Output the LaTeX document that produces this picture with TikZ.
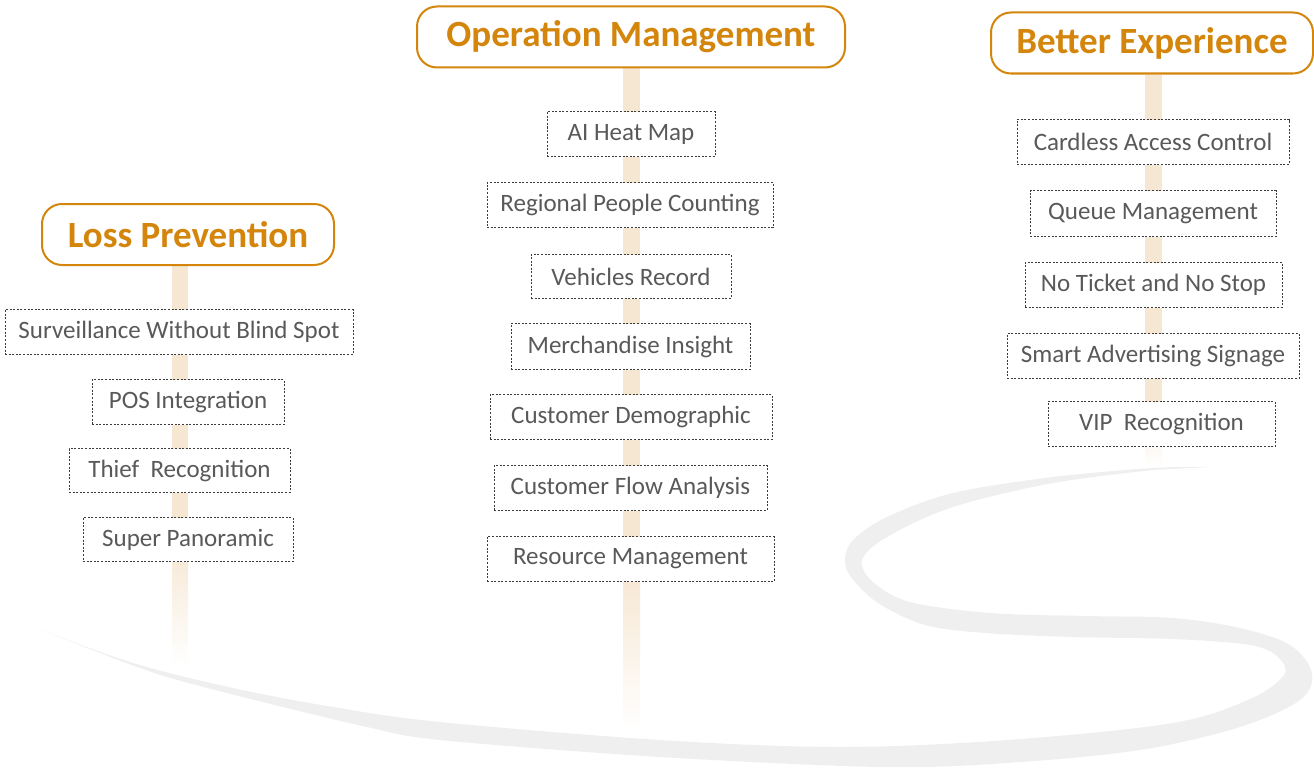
\documentclass[tikz,border=0pt]{standalone}
\usepackage{fontspec}
\setmainfont{Carlito}
\usetikzlibrary{backgrounds,calc}
\definecolor{hdrcol}{RGB}{212,134,12}
\definecolor{barcol}{RGB}{246,231,210}
\definecolor{swcol}{RGB}{239,239,239}
\definecolor{txtcol}{RGB}{89,89,89}
\definecolor{dotcol}{RGB}{60,60,60}
\begin{document}
\begin{tikzpicture}[x=1pt,y=-1pt,
  hdr/.style={draw=hdrcol, line width=2pt, rounded corners=20pt, fill=white,
    text=hdrcol, font=\fontsize{37}{40}\selectfont\bfseries, inner sep=0pt},
  item/.style={draw=dotcol, line width=0.7pt, dash pattern=on 2pt off 1.6pt,
    fill=white, text=txtcol, font=\fontsize{25}{28}\selectfont, inner sep=0pt},
  sz/.style 2 args={minimum width=#1pt, minimum height=#2pt},
  bar/.style={fill=barcol},
  fadebar/.style={top color=barcol, bottom color=white},
]
\useasboundingbox (0,0) rectangle (1314,768);

% headers
\node[hdr, sz={292}{61}] (lp) at (188,234.5) {Loss Prevention};
\node[hdr, sz={428}{61}] (om) at (631,37) {Operation Management};
\node[hdr, sz={322}{61}] (be) at (1152,43) {Better Experience};

% loss prevention items
\node[item, sz={348}{45}] (s1) at (179,332) {Surveillance Without Blind Spot};
\node[item, sz={192}{45}] (s2) at (188,402) {POS Integration};
\node[item, sz={221}{44}] (s3) at (179.5,470.5) {Thief\ \ Recognition};
\node[item, sz={210}{44}] (s4) at (188,539.5) {Super Panoramic};

% operation management items
\node[item, sz={168}{45}] (m1) at (631,134) {AI Heat Map};
\node[item, sz={286}{45}] (m2) at (630,205) {Regional People Counting};
\node[item, sz={200}{44}] (m3) at (631,276.5) {Vehicles Record};
\node[item, sz={239}{46}] (m4) at (630.5,346.5) {Merchandise Insight};
\node[item, sz={282}{45}] (m5) at (631,417) {Customer Demographic};
\node[item, sz={273}{45}] (m6) at (630.5,488) {Customer Flow Analysis};
\node[item, sz={287}{45}] (m7) at (630.5,559) {Resource Management};

% better experience items
\node[item, sz={272}{45}] (r1) at (1153,142) {Cardless Access Control};
\node[item, sz={246}{46}] (r2) at (1153,213.5) {Queue Management};
\node[item, sz={257}{45}] (r3) at (1153.5,285) {No Ticket and No Stop};
\node[item, sz={292}{45}] (r4) at (1153,356) {Smart Advertising Signage};
\node[item, sz={227}{45}] (r5) at (1161.5,424) {VIP\ \ Recognition};

\coordinate (lpFade) at (180,540);
\coordinate (lpEnd) at (180,665);
\coordinate (omFade) at (631.5,570);
\coordinate (omEnd) at (631.5,732);
\coordinate (beFade) at (1153.5,400);
\coordinate (beEnd) at (1153.5,466);

\begin{scope}[on background layer]
  % swoosh
  \fill[swcol] plot[smooth, tension=0.55] coordinates {(39,629) (133,663) (233,688) (333,707) (440,722) (660,740) (840,747) (1007,740) (1173,723) (1250,699) (1284,675) (1278,657) (1250,645) (1173,639) (1073,637) (985,633) (925,625) (878,603) (851,577) (845,560) (853,540) (887,517) (953,493) (1053,477) (1153,468) (1210,467)}
    -- plot[smooth, tension=0.55] coordinates {(1153,470) (1053,483) (953,507) (887,537) (862,560) (873,582) (910,602) (990,613) (1087,616) (1173,618) (1240,628) (1290,645) (1312,673) (1300,700) (1240,727) (1140,750) (1007,763) (880,767) (660,757) (440,740) (367,727) (267,703) (167,677) (100,653)} -- cycle;
  % bars
  \fill[bar] ($(lp.south -| lpFade)+(-8,0)$) rectangle ($(lpFade)+(8,0)$);
  \shade[fadebar] ($(lpFade)+(-8,0)$) rectangle ($(lpEnd)+(8,0)$);
  \fill[bar] ($(om.south -| omFade)+(-8.5,0)$) rectangle ($(omFade)+(8.5,0)$);
  \shade[fadebar] ($(omFade)+(-8.5,0)$) rectangle ($(omEnd)+(8.5,0)$);
  \fill[bar] ($(be.south -| beFade)+(-8.5,0)$) rectangle ($(beFade)+(8.5,0)$);
  \shade[fadebar] ($(beFade)+(-8.5,0)$) rectangle ($(beEnd)+(8.5,0)$);
\end{scope}
\end{tikzpicture}
\end{document}
